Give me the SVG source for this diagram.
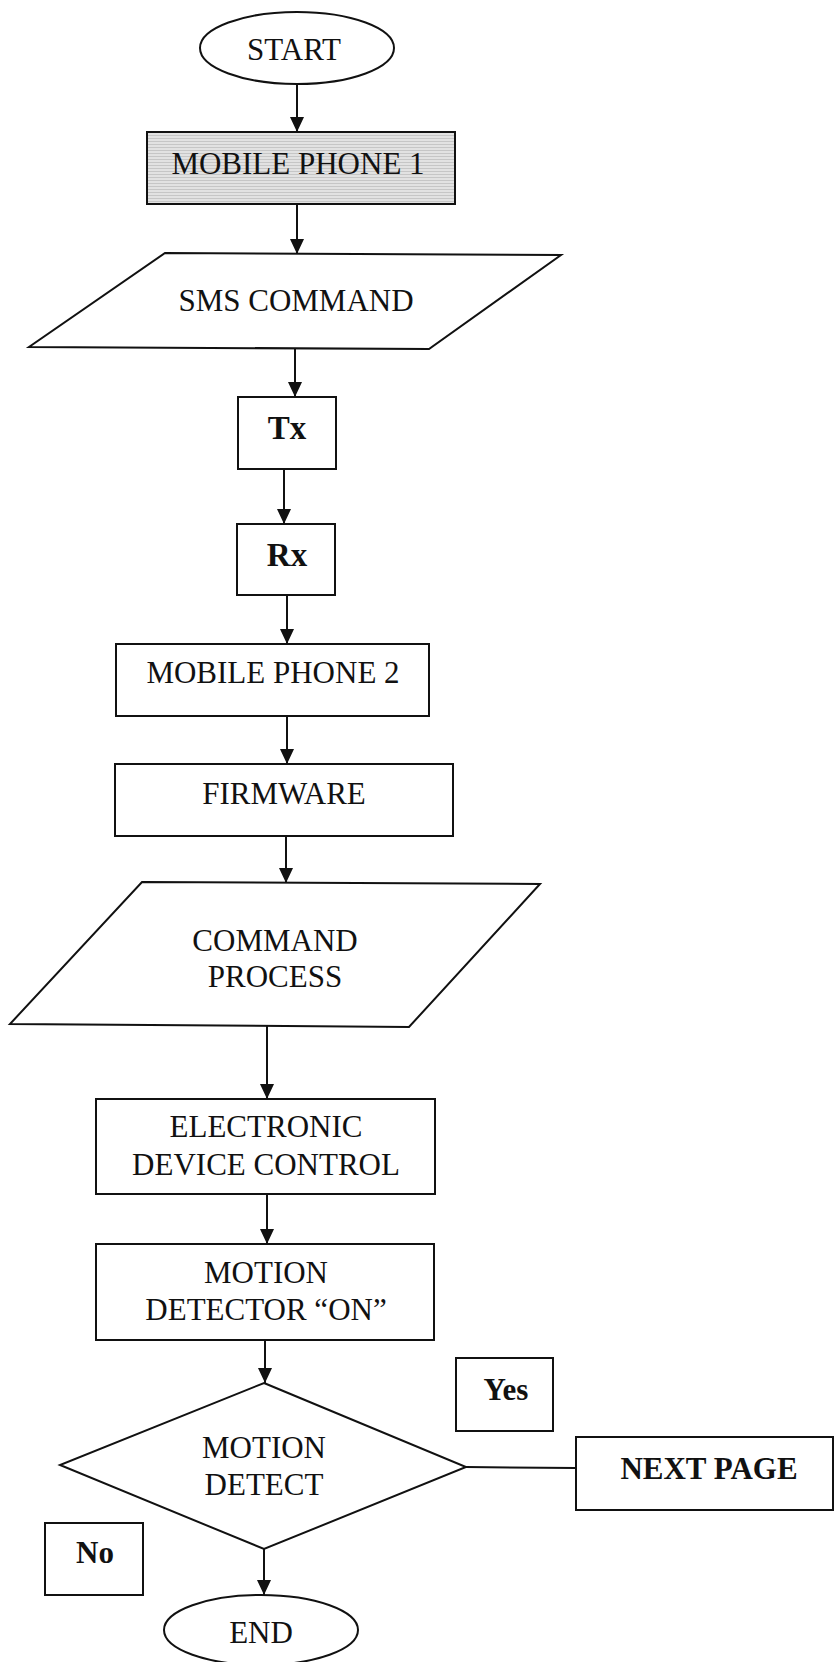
<svg xmlns="http://www.w3.org/2000/svg" width="835" height="1662" viewBox="0 0 835 1662">
<style>
.shape{fill:#fff;stroke:#111;stroke-width:2}
.conn{fill:none;stroke:#111;stroke-width:2}
text{font-family:"Liberation Serif","Times New Roman",serif;font-size:31px;fill:#111;text-anchor:middle}
.b{font-weight:bold}
.big{font-size:33px}
</style>
<defs>
<marker id="arr" markerUnits="userSpaceOnUse" markerWidth="15" markerHeight="14" refX="15" refY="7" orient="auto">
<path d="M0,0 L15,7 L0,14 z" fill="#111"/>
</marker>
<pattern id="shade" width="4" height="3" patternUnits="userSpaceOnUse">
<rect width="4" height="3" fill="#e2e2e2"/>
<rect width="4" height="1" fill="#c6c6c6"/>
</pattern>
</defs>
<rect width="835" height="1662" fill="#fff"/>
<g id="connectors">
<line class="conn" x1="297" y1="84" x2="297" y2="132" marker-end="url(#arr)"/>
<line class="conn" x1="297" y1="204" x2="297" y2="254" marker-end="url(#arr)"/>
<line class="conn" x1="295" y1="349" x2="295" y2="397" marker-end="url(#arr)"/>
<line class="conn" x1="284" y1="469" x2="284" y2="524" marker-end="url(#arr)"/>
<line class="conn" x1="287" y1="595" x2="287" y2="644" marker-end="url(#arr)"/>
<line class="conn" x1="287" y1="716" x2="287" y2="764" marker-end="url(#arr)"/>
<line class="conn" x1="286" y1="836" x2="286" y2="883" marker-end="url(#arr)"/>
<line class="conn" x1="267" y1="1026" x2="267" y2="1099" marker-end="url(#arr)"/>
<line class="conn" x1="267" y1="1194" x2="267" y2="1244" marker-end="url(#arr)"/>
<line class="conn" x1="265" y1="1340" x2="265" y2="1383" marker-end="url(#arr)"/>
<line class="conn" x1="264" y1="1549" x2="264" y2="1595" marker-end="url(#arr)"/>
<line class="conn" x1="466" y1="1467" x2="576" y2="1468"/>
</g>
<g id="start">
<ellipse class="shape" cx="297" cy="48" rx="97" ry="36"/>
<text x="294" y="60">START</text>
</g>
<g id="mobile-phone-1">
<rect x="147" y="132" width="308" height="72" fill="url(#shade)" stroke="#111" stroke-width="2"/>
<text x="298" y="174">MOBILE PHONE 1</text>
</g>
<g id="sms-command">
<polygon class="shape" points="165,253 561,255 429,349 29,347"/>
<text x="296" y="311">SMS COMMAND</text>
</g>
<g id="tx">
<rect class="shape" x="238" y="397" width="98" height="72"/>
<text class="b big" x="287" y="439">Tx</text>
</g>
<g id="rx">
<rect class="shape" x="237" y="524" width="98" height="71"/>
<text class="b big" x="287" y="566">Rx</text>
</g>
<g id="mobile-phone-2">
<rect class="shape" x="116" y="644" width="313" height="72"/>
<text x="273" y="683">MOBILE PHONE 2</text>
</g>
<g id="firmware">
<rect class="shape" x="115" y="764" width="338" height="72"/>
<text x="284" y="804">FIRMWARE</text>
</g>
<g id="command-process">
<polygon class="shape" points="142,882 540,884 409,1027 10,1024"/>
<text x="275" y="951">COMMAND</text>
<text x="275" y="987">PROCESS</text>
</g>
<g id="electronic-device-control">
<rect class="shape" x="96" y="1099" width="339" height="95"/>
<text x="266" y="1137">ELECTRONIC</text>
<text x="266" y="1175">DEVICE CONTROL</text>
</g>
<g id="motion-detector-on">
<rect class="shape" x="96" y="1244" width="338" height="96"/>
<text x="266" y="1283">MOTION</text>
<text x="266" y="1320">DETECTOR “ON”</text>
</g>
<g id="motion-detect">
<polygon class="shape" points="264,1383 466,1467 264,1549 60,1465"/>
<text x="264" y="1458">MOTION</text>
<text x="264" y="1495">DETECT</text>
</g>
<g id="yes">
<rect class="shape" x="456" y="1358" width="97" height="73"/>
<text class="b" x="506" y="1400">Yes</text>
</g>
<g id="next-page">
<rect class="shape" x="576" y="1437" width="257" height="73"/>
<text class="b" x="709" y="1479">NEXT PAGE</text>
</g>
<g id="no">
<rect class="shape" x="45" y="1523" width="98" height="72"/>
<text class="b" x="95" y="1563">No</text>
</g>
<g id="end">
<ellipse class="shape" cx="261" cy="1630" rx="97" ry="35"/>
<text x="261" y="1643">END</text>
</g>
</svg>
